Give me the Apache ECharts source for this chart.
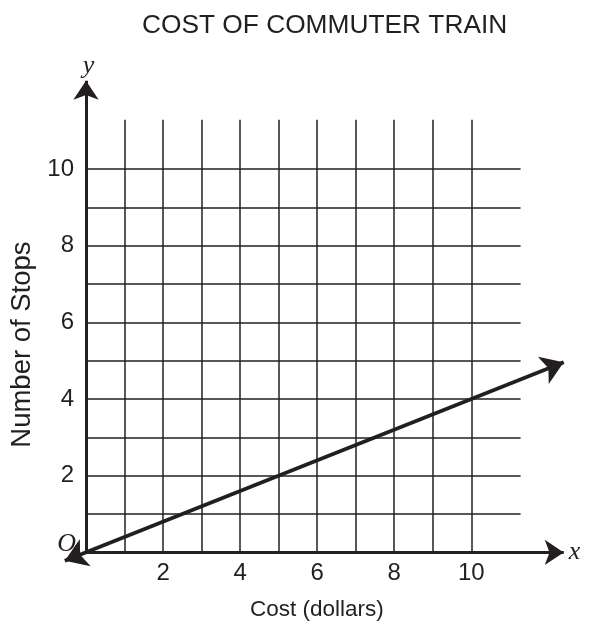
<!DOCTYPE html>
<html>
<head>
<meta charset="utf-8">
<script src="https://cdn.jsdelivr.net/npm/echarts@6/dist/echarts.min.js"></script>
<style>
  html, body { margin: 0; padding: 0; background: #ffffff; }
  #chart { width: 596px; height: 631px; }
</style>
</head>
<body>
<div id="chart"></div>
<script>
// Texts
const chartTitle = 'COST OF COMMUTER TRAIN';
const xAxisName = 'Cost (dollars)';
const yAxisName = 'Number of Stops';

// Tick labels shown on each axis
const xTickLabels = [2, 4, 6, 8, 10];
const yTickLabels = [2, 4, 6, 8, 10];

// Grid lines (one per unit) and how far they run
const gridCostValues = [1, 2, 3, 4, 5, 6, 7, 8, 9, 10];
const gridStopValues = [1, 2, 3, 4, 5, 6, 7, 8, 9, 10];
const gridExtent = 11.28;

// Where the axis arrows end
const xAxisEnd = 12.4;
const yAxisEnd = 12.3;

// Cost vs. stops line (both ends carry arrowheads)
const costEnds = [-0.55, 12.4];
const stopEnds = [-0.22, 4.96];

const ink = '#231f20';
const sans = '"Liberation Sans", Arial, Helvetica, sans-serif';
const serif = '"Liberation Serif", "Times New Roman", serif';

const chart = echarts.init(document.getElementById('chart'), null, { renderer: 'canvas' });

const gridLines = [];
gridCostValues.forEach(c => gridLines.push([{ coord: [c, 0] }, { coord: [c, gridExtent] }]));
gridStopValues.forEach(s => gridLines.push([{ coord: [0, s] }, { coord: [gridExtent, s] }]));

const italicLabel = {
  show: true,
  position: 'end',
  fontFamily: serif,
  fontStyle: 'italic',
  fontSize: 26,
  color: ink
};

chart.setOption({
  animation: false,
  backgroundColor: '#ffffff',
  title: {
    text: chartTitle,
    left: 142,
    top: 13,
    padding: 0,
    textStyle: { fontFamily: sans, fontSize: 26.3, fontWeight: 'normal', color: ink }
  },
  grid: { left: 84.5, right: 28.4, top: 80.7, bottom: 78.6, containLabel: false },
  xAxis: {
    type: 'value',
    min: 0,
    max: 12.5,
    interval: 2,
    name: xAxisName,
    nameLocation: 'middle',
    nameGap: 46,
    nameTextStyle: { fontFamily: sans, fontSize: 22.5, color: ink, padding: [0, 20, 0, 0] },
    axisLine: { show: false },
    axisTick: { show: false },
    splitLine: { show: false },
    axisLabel: {
      margin: 9,
      fontFamily: sans,
      fontSize: 24,
      color: ink,
      formatter: v => (xTickLabels.includes(v) ? String(v) : '')
    }
  },
  yAxis: {
    type: 'value',
    min: 0,
    max: 12.3,
    interval: 2,
    name: yAxisName,
    nameLocation: 'middle',
    nameGap: 50,
    nameRotate: 90,
    nameTextStyle: { fontFamily: sans, fontSize: 27.5, color: ink, padding: [0, 56, 0, 0] },
    axisLine: { show: false },
    axisTick: { show: false },
    splitLine: { show: false },
    axisLabel: {
      margin: 12,
      fontFamily: sans,
      fontSize: 24,
      color: ink,
      formatter: v => (yTickLabels.includes(v) ? String(v) : '')
    }
  },
  series: [
    {
      name: 'grid',
      type: 'line',
      data: [],
      clip: false,
      silent: true,
      markLine: {
        silent: true,
        symbol: ['none', 'none'],
        label: { show: false },
        emphasis: { disabled: true },
        lineStyle: { color: ink, width: 1.5, type: 'solid' },
        data: gridLines
      }
    },
    {
      name: 'axes',
      type: 'line',
      data: [],
      clip: false,
      silent: true,
      markLine: {
        silent: true,
        symbol: ['none', 'arrow'],
        symbolSize: 19,
        emphasis: { disabled: true },
        lineStyle: { color: ink, width: 3, type: 'solid' },
        data: [
          [{ coord: [0, 0], label: Object.assign({}, italicLabel, { formatter: 'x', distance: 5, padding: [0, 0, 4, 0] }) },
           { coord: [xAxisEnd, 0] }],
          [{ coord: [0, 0], label: Object.assign({}, italicLabel, { formatter: 'y', distance: 2, padding: [0, 0, 0, 5] }) },
           { coord: [0, yAxisEnd] }]
        ]
      },
      markPoint: {
        silent: true,
        symbol: 'circle',
        symbolSize: 0,
        data: [{ coord: [0, 0] }],
        label: {
          show: true,
          formatter: 'O',
          position: 'left',
          distance: 10,
          offset: [0, -8],
          fontFamily: serif,
          fontStyle: 'italic',
          fontSize: 26,
          color: ink
        }
      }
    },
    {
      name: 'Cost of commuter train',
      type: 'lines',
      coordinateSystem: 'cartesian2d',
      clip: false,
      silent: true,
      symbol: ['arrow', 'arrow'],
      symbolSize: 22,
      lineStyle: { color: ink, width: 3.8, type: 'solid', opacity: 1 },
      data: [
        { coords: [[costEnds[0], stopEnds[0]], [costEnds[1], stopEnds[1]]] }
      ]
    }
  ]
});
</script>
</body>
</html>
